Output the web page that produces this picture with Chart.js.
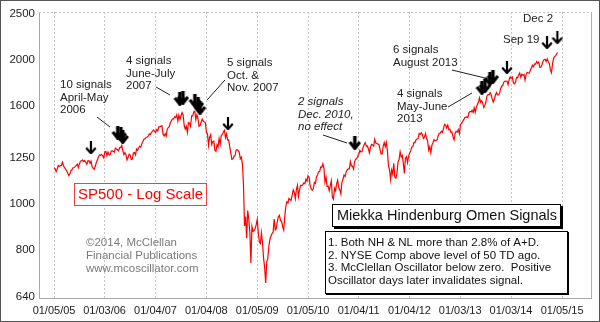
<!DOCTYPE html>
<html><head><meta charset="utf-8">
<style>html,body{margin:0;padding:0;background:#fff;overflow:hidden}canvas{display:block}</style>
<script src="https://cdn.jsdelivr.net/npm/chart.js@4/dist/chart.umd.min.js"></script>
</head><body>
<canvas id="c" width="600" height="322"></canvas>
<script>
// ---- Data: S&P 500, ~weekly (4 readings per month) ----
const years = [2005,2006,2007,2008,2009,2010,2011,2012,2013,2014];
const sp2005 = [1190,1185,1168,1181, 1203,1197,1201,1204, 1222,1200,1190,1181, 1172,1160,1145,1156, 1172,1178,1190,1191, 1196,1203,1210,1191, 1212,1228,1230,1234, 1226,1232,1220,1210, 1230,1231,1215,1228, 1196,1186,1180,1198, 1220,1235,1255,1265, 1263,1268,1260,1248];
const sp2006 = [1285,1287,1262,1283, 1265,1267,1288,1290, 1288,1282,1307,1302, 1297,1290,1311,1311, 1325,1292,1267,1280, 1265,1235,1251,1270, 1265,1237,1240,1278, 1280,1266,1302,1295, 1310,1320,1314,1336, 1350,1365,1368,1377, 1380,1385,1400,1396, 1410,1418,1427,1418];
const sp2007 = [1410,1430,1422,1448, 1448,1455,1457,1400, 1387,1402,1387,1432, 1444,1452,1480,1494, 1505,1505,1522,1515, 1536,1490,1533,1503, 1530,1552,1534,1458, 1433,1453,1411,1479, 1474,1453,1528,1527, 1557,1562,1500,1535, 1509,1453,1458,1481, 1504,1490,1484,1478];
const sp2008 = [1411,1401,1325,1378, 1395,1331,1349,1352, 1294,1288,1330,1315, 1370,1332,1390,1397, 1413,1425,1375,1400, 1360,1360,1317,1278, 1239,1241,1257,1260, 1296,1298,1292,1283, 1242,1252,1213,1099, 899,940,848,968, 930,873,752,896, 876,879,888,903];
const sp2009 = [927,870,832,826, 869,827,770,735, 683,756,768,816, 843,856,866,873, 929,882,887,919, 940,946,922,919, 896,881,940,987, 1010,1004,1026,1021, 1016,1042,1069,1057, 1025,1071,1093,1036, 1069,1093,1092,1096, 1106,1102,1126,1115];
const sp2010 = [1145,1137,1091,1074, 1067,1075,1109,1104, 1139,1150,1166,1169, 1194,1192,1212,1187, 1110,1136,1088,1089, 1065,1091,1117,1031, 1022,1078,1065,1101, 1121,1080,1071,1049, 1110,1125,1148,1141, 1166,1177,1183,1183, 1225,1200,1199,1181, 1224,1240,1243,1258];
const sp2011 = [1271,1293,1283,1286, 1311,1329,1343,1320, 1321,1304,1279,1313, 1332,1328,1320,1364, 1340,1338,1333,1331, 1300,1271,1271,1321, 1343,1316,1345,1292, 1199,1178,1124,1177, 1154,1216,1136,1131, 1155,1224,1238,1285, 1253,1263,1216,1158, 1244,1255,1219,1258];
const sp2012 = [1278,1289,1315,1316, 1344,1342,1361,1366, 1370,1404,1397,1408, 1398,1370,1378,1403, 1369,1353,1295,1317, 1278,1325,1342,1362, 1354,1356,1362,1390, 1405,1406,1418,1411, 1438,1466,1460,1441, 1461,1429,1433,1412, 1414,1379,1360,1406, 1418,1413,1430,1402];
const sp2013 = [1466,1472,1486,1498, 1513,1518,1520,1515, 1551,1560,1556,1569, 1553,1588,1555,1593, 1614,1633,1667,1631, 1643,1626,1592,1606, 1631,1680,1692,1690, 1709,1691,1656,1633, 1655,1687,1710,1691, 1690,1703,1744,1762, 1770,1798,1804,1806, 1805,1775,1818,1842];
const sp2014 = [1831,1842,1790,1783, 1797,1838,1836,1859, 1878,1841,1866,1857, 1865,1815,1864,1884, 1878,1877,1900,1924, 1950,1936,1962,1960, 1985,1968,1978,1930, 1931,1955,1988,2003, 2007,1985,2010,1982, 1967,1906,1880,1964, 2018,2032,2041,2063, 2072];
const spByYear = [sp2005,sp2006,sp2007,sp2008,sp2009,sp2010,sp2011,sp2012,sp2013,sp2014];

// Axis ticks
const tickDates  = ['2005-01-05','2006-01-03','2007-01-04','2008-01-04','2009-01-05','2010-01-05','2011-01-04','2012-01-04','2013-01-03','2014-01-03','2015-01-05'];
const tickLabels = ['01/05/05','01/03/06','01/04/07','01/04/08','01/05/09','01/05/10','01/04/11','01/04/12','01/03/13','01/03/14','01/05/15'];
const yTicks = [640,800,1000,1250,1600,2000,2500];

// Signal arrows
const sigDates  = ['2005-09-27','2006-04-08','2006-04-30','2006-05-14','2007-06-28','2007-07-20','2007-10-14','2007-11-05','2007-11-20','2008-06-08','2010-12-07','2013-06-08','2013-06-30','2013-08-05','2013-08-26','2013-12-05','2014-09-19','2014-12-02'];
const sigLevels = [1309,1407,1397,1380,1658,1666,1643,1618,1587,1470,1340,1748,1764,1826,1843,1927,2173,2226];
const sigBold   = [false,true,true,true,true,true,true,true,true,false,true,true,true,true,true,false,false,false];

// ---- helpers ----
function decYear(s){const [Y,M,D]=s.split('-').map(Number);const t=Date.UTC(Y,M-1,D),t0=Date.UTC(Y,0,1),t1=Date.UTC(Y+1,0,1);return Y+(t-t0)/(t1-t0);}
const linePts = [];
years.forEach((y,yi)=>spByYear[yi].forEach((v,i)=>linePts.push({x:y+(i+0.5)/48,y:v})));
const sigPts = sigDates.map((d,i)=>({x:decYear(d),y:sigLevels[i]}));
const tickVals = tickDates.map(decYear);

function arrowImg(bold){
  const w=bold?13:12,h=bold?14:13;
  const c=document.createElement('canvas');c.width=w;c.height=h;
  const g=c.getContext('2d');g.strokeStyle='#000';g.fillStyle='#000';
  if(bold){
    g.lineWidth=3.5;g.beginPath();g.moveTo(w/2,0);g.lineTo(w/2,h-4);g.stroke();
    g.lineWidth=3;g.lineJoin='miter';g.beginPath();g.moveTo(1.5,h/2-1);g.lineTo(w/2,h-1.5);g.lineTo(w-1.5,h/2-1);g.stroke();
  }else{
    g.lineWidth=2.2;g.beginPath();g.moveTo(w/2,0);g.lineTo(w/2,h-2);g.stroke();
    g.beginPath();g.moveTo(1.2,h/2);g.lineTo(w/2,h-1.2);g.lineTo(w-1.2,h/2);g.stroke();
  }
  return c;
}
const arrowBold=arrowImg(true), arrowThin=arrowImg(false);

const FONT='"Liberation Sans", Arial, sans-serif';
const labels=[
  {x:60,y:85,lines:['10 signals','April-May','2006']},
  {x:126,y:61,lines:['4 signals','June-July','2007']},
  {x:227,y:63,lines:['5 signals','Oct. &','Nov. 2007']},
  {x:298,y:102,lines:['2 signals','Dec. 2010,','no effect'],italic:true},
  {x:393,y:50,lines:['6 signals','August 2013']},
  {x:397,y:94,lines:['4 signals','May-June','2013']},
  {x:503,y:40,lines:['Sep 19']},
  {x:523,y:19,lines:['Dec 2']}
];
const leaders=[[97,117,110,127],[156,87,170,95],[225,80,207,100],[323,135,347,143],[452,70,485,78],[448,107,472,93]];

const decor={id:'decor',
  beforeDraw(ch){const g=ch.ctx;g.save();g.fillStyle='#fff';g.fillRect(0,0,ch.width,ch.height);g.restore();},
  beforeDatasetsDraw(ch){
    const g=ch.ctx,a=ch.chartArea;g.save();
    g.strokeStyle='#c0c0c0';g.lineWidth=1;g.setLineDash([2,2]);
    g.beginPath();g.moveTo(a.left,a.top+0.5);g.lineTo(a.right,a.top+0.5);g.stroke();
    g.setLineDash([]);g.strokeStyle='#b0b0b0';
    g.beginPath();g.moveTo(a.right+0.5,a.top);g.lineTo(a.right+0.5,a.bottom);g.stroke();
    g.restore();
  },
  afterDatasetsDraw(ch){
    const g=ch.ctx;g.save();
    g.strokeStyle='#222';g.lineWidth=1;
    leaders.forEach(l=>{g.beginPath();g.moveTo(l[0],l[1]);g.lineTo(l[2],l[3]);g.stroke();});
    g.fillStyle='#222';g.textBaseline='middle';g.textAlign='left';
    labels.forEach(L=>{g.font=(L.italic?'italic ':'')+'11.5px '+FONT;L.lines.forEach((t,i)=>g.fillText(t,L.x,L.y+i*12.5));});
    g.fillStyle='#7a7a7a';g.font='11.5px '+FONT;
    ['\u00A92014, McClellan','Financial Publications','www.mcoscillator.com'].forEach((t,i)=>g.fillText(t,86,243+i*13));
    g.fillStyle='#fff';g.fillRect(74,183,132,22);
    g.strokeStyle='#f04040';g.strokeRect(74.5,183.5,132,22);
    g.fillStyle='#ff0000';g.font='15px '+FONT;g.fillText('SP500 - Log Scale',78,195);
    g.fillStyle='#000';g.fillRect(334,206,229,23);
    g.fillStyle='#fff';g.fillRect(332,204,229,23);
    g.strokeStyle='#000';g.strokeRect(332.5,204.5,228,22);
    g.fillStyle='#111';g.font='14.5px '+FONT;g.fillText('Miekka Hindenburg Omen Signals',337,216);
    g.fillStyle='#000';g.fillRect(326,232,243,63);
    g.fillStyle='#fff';g.fillRect(325,231,243,63);
    g.strokeStyle='#000';g.strokeRect(325.5,231.5,242,62);
    g.fillStyle='#111';g.font='11.5px '+FONT;
    ['1. Both NH & NL more than 2.8% of A+D.','2. NYSE Comp above level of 50 TD ago.','3. McClellan Oscillator below zero.  Positive','Oscillator days later invalidates signal.'].forEach((t,i)=>g.fillText(t,328,243+i*12.5));
    g.restore();
  },
  afterDraw(ch){const g=ch.ctx;g.save();g.strokeStyle='#555';g.lineWidth=1;g.strokeRect(0.5,0.5,ch.width-1,ch.height-1);g.restore();}
};

new Chart(document.getElementById('c'),{
  type:'scatter',
  data:{datasets:[
    {data:sigPts,showLine:false,pointStyle:c=>sigBold[c.dataIndex]?arrowBold:arrowThin,pointRadius:3,order:0},
    {data:linePts,showLine:true,borderColor:'#ff0000',borderWidth:1.2,pointRadius:0,tension:0,order:1}
  ]},
  options:{
    responsive:false,animation:false,devicePixelRatio:1,
    layout:{padding:{top:12,right:9,left:0,bottom:0}},
    plugins:{legend:{display:false},tooltip:{enabled:false}},
    scales:{
      x:{type:'linear',min:2004.715,max:2015.58,
        afterBuildTicks:s=>{s.ticks=tickVals.map(v=>({value:v}));},
        afterFit:s=>{s.height=24;},
        ticks:{autoSkip:false,maxRotation:0,padding:6,color:'#222',font:{family:FONT,size:11},callback:(v,i)=>tickLabels[i]},
        grid:{color:'#c4c4c4',lineWidth:1,drawTicks:false},
        border:{display:true,color:'#a8a8a8',dash:[2,2]}
      },
      y:{type:'logarithmic',min:635,max:2520,
        afterBuildTicks:s=>{s.ticks=yTicks.map(v=>({value:v}));},
        afterFit:s=>{s.width=39;},
        ticks:{autoSkip:false,padding:4,color:'#222',font:{family:FONT,size:11.5},callback:(v,i)=>String(yTicks[i])},
        grid:{display:false,drawTicks:false},
        border:{display:true,color:'#a8a8a8'}
      }
    }
  },
  plugins:[decor]
});
</script>
</body></html>
